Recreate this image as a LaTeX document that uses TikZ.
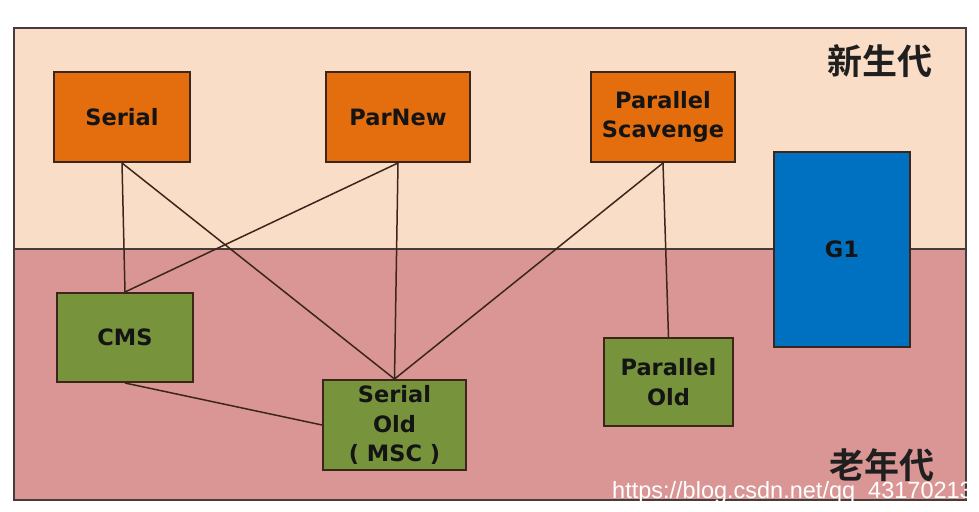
\documentclass[tikz,border=0pt]{standalone}
\usepackage{fontspec}
\setmainfont{DejaVu Sans}
\newfontfamily\cjkfont{Noto Sans CJK SC}[BoldFont={* Bold}]
\newfontfamily\wmfont{Liberation Sans}
\definecolor{youngbg}{RGB}{250,221,198}
\definecolor{oldbg}{RGB}{217,150,148}
\definecolor{orangebox}{RGB}{228,110,14}
\definecolor{greenbox}{RGB}{119,147,60}
\definecolor{bluebox}{RGB}{0,112,192}
\definecolor{edge}{RGB}{60,38,28}
\definecolor{frame}{RGB}{70,60,58}
\tikzset{
  gcbox/.style={draw=edge, line width=2pt, inner sep=0pt, align=center,
    font=\bfseries\fontsize{22.5}{29.5}\selectfont, text=black!92},
  youngbox/.style={gcbox, fill=orangebox},
  oldbox/.style={gcbox, fill=greenbox},
  g1box/.style={gcbox, fill=bluebox},
  link/.style={draw=edge, line width=1.5pt},
  genlabel/.style={font=\cjkfont\bfseries\fontsize{35}{35}\selectfont, text=black!88, inner sep=0pt}
}
\begin{document}
\begin{tikzpicture}[x=1pt,y=-1pt]
\useasboundingbox (0,0) rectangle (979,511);
\fill[white] (0,0) rectangle (979,511);
% regions
\fill[youngbg] (14,28) rectangle (966,249);
\fill[oldbg] (14,249) rectangle (966,500);
\draw[frame, line width=2pt] (14,28) rectangle (966,500);
\draw[frame, line width=2pt] (14,249) -- (966,249);
% nodes
\node[youngbox, minimum width=136pt, minimum height=90pt] (serial) at (122,117) {Serial};
\node[youngbox, minimum width=144pt, minimum height=90pt] (parnew) at (398,117) {ParNew};
\node[youngbox, minimum width=144pt, minimum height=90pt] (ps) at (663,117) {Parallel\\Scavenge};
\node[g1box, minimum width=136pt, minimum height=195pt] (g1) at (842,249.5) {G1};
\node[oldbox, minimum width=136pt, minimum height=89pt] (cms) at (125,337.5) {CMS};
\node[oldbox, minimum width=143pt, minimum height=90pt] (serialold) at (394.5,425) {Serial\\Old\\( MSC )};
\node[oldbox, minimum width=129pt, minimum height=88pt] (parold) at (668.5,382) {Parallel\\Old};
% connectors
\draw[link] (serial.south) -- (cms.north);
\draw[link] (serial.south) -- (serialold.north);
\draw[link] (parnew.south) -- (cms.north);
\draw[link] (parnew.south) -- (serialold.north);
\draw[link] (ps.south) -- (serialold.north);
\draw[link] (ps.south) -- (parold.north);
\draw[link] (cms.south) -- (serialold.west);
% generation labels
\node[genlabel] (young) at (880,61) {新生代};
\node[genlabel] (old) at (882,465) {老年代};
% watermark
\node[font=\wmfont\fontsize{23.5}{23.5}\selectfont, text=white, inner sep=0pt, anchor=base east] (wm) at (973,498) {https://blog.csdn.net/qq\_43170213};
\end{tikzpicture}
\end{document}
